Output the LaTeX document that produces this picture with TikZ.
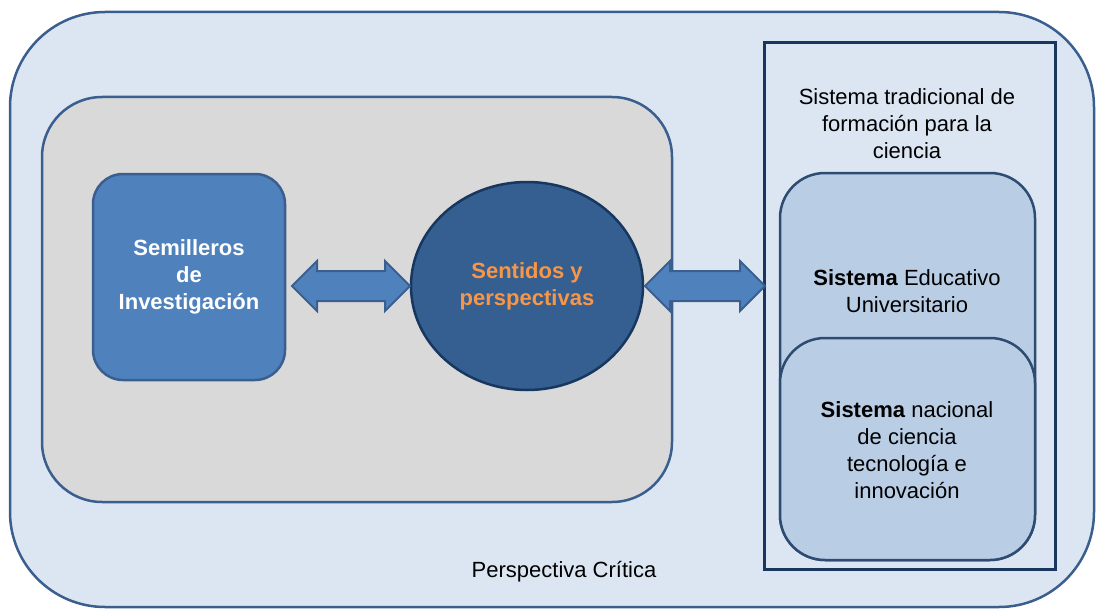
\documentclass[tikz,border=0pt]{standalone}
\usepackage{fontspec}
\setmainfont{Liberation Sans}
\usepackage{tikz}
\usetikzlibrary{shapes.geometric,shapes.arrows}
\definecolor{fondo}{HTML}{DCE6F2}
\definecolor{borde}{HTML}{3A5F8F}
\definecolor{gris}{HTML}{D9D9D9}
\definecolor{azul}{HTML}{4F81BD}
\definecolor{oscuro}{HTML}{355F91}
\definecolor{marino}{HTML}{17375E}
\definecolor{celeste}{HTML}{B9CDE5}
\definecolor{naranja}{HTML}{F79646}
\tikzstyle{every node}=[font=\fontsize{22}{27}\selectfont,align=center,inner sep=0pt]
\tikzstyle{caja}=[draw=borde,line width=2.5pt,rectangle]
\tikzstyle{flecha}=[draw=borde,fill=azul,line width=2pt,double arrow,double arrow head extend=10pt,inner xsep=0pt,inner ysep=14pt]

\begin{document}
\begin{tikzpicture}[x=1pt,y=-1pt]
	\useasboundingbox (0,0) rectangle (1096,610);
	\node(critica)[caja,fill=fondo,rounded corners=95pt,minimum width=1084pt,minimum height=595pt] at (552,309.5){};
	\node(crtxt) at (564,572){Perspectiva Crítica};
	\node(gris)[caja,fill=gris,rounded corners=60pt,minimum width=630pt,minimum height=405pt] at (357,299.5){};
	\node(semi)[caja,fill=azul,rounded corners=30pt,minimum width=192pt,minimum height=206pt,text=white,font=\fontsize{22}{27}\selectfont\bfseries] at (189,277){Semilleros\\de\\Investigación};
	\node(sent)[draw=marino,line width=2.5pt,fill=oscuro,ellipse,minimum width=232pt,minimum height=208pt,text=naranja,font=\fontsize{22}{27}\selectfont\bfseries] at (527,286){Sentidos y\\perspectivas};
	\node(sistema)[draw=marino,line width=3pt,minimum width=291pt,minimum height=526pt] at (909.5,306){};
	\node(titulo) at (907,124){Sistema tradicional de\\formación para la\\ciencia};
	\node(edu)[caja,draw=borde!80!black,fill=celeste,rounded corners=45pt,minimum width=255pt,minimum height=387pt] at (907.5,366.5){};
	\node(edutxt) at (907,291){\textbf{Sistema} Educativo\\Universitario};
	\node(nac)[caja,draw=borde!80!black,fill=celeste,rounded corners=45pt,minimum width=255pt,minimum height=222pt] at (907.5,449){};
	\node(nactxt) at (907,450){\textbf{Sistema} nacional\\de ciencia\\tecnología e\\innovación};

	\node(f1)[flecha,minimum height=118pt] at (351,286){};
	\node(f2)[flecha,minimum height=120pt] at (705,286){};
\end{tikzpicture}
\end{document}
